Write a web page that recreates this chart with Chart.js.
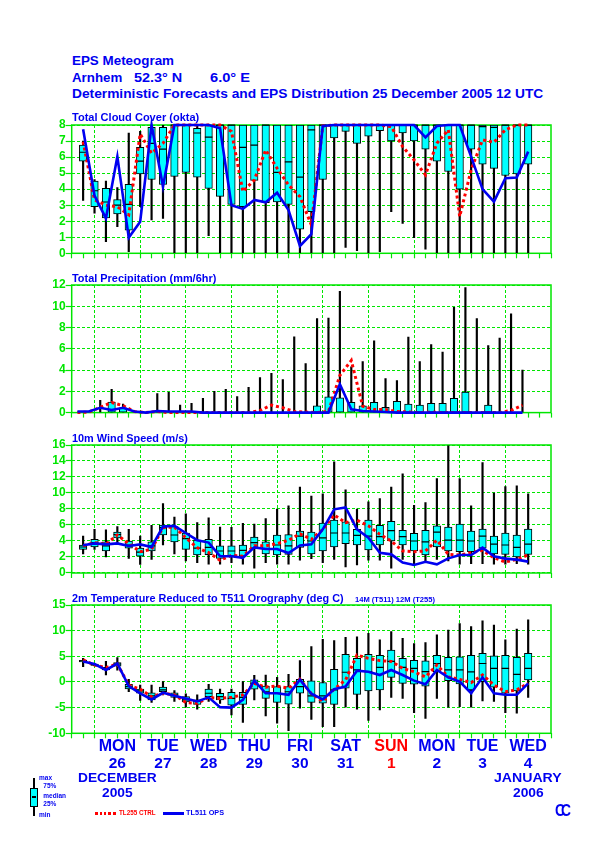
<!DOCTYPE html>
<html><head><meta charset="utf-8">
<script src="https://cdn.jsdelivr.net/npm/chart.js@4.4.1/dist/chart.umd.min.js"></script>
<style>
html,body{margin:0;padding:0;background:#fff;}
body{width:595px;height:842px;position:relative;overflow:hidden;font-family:"Liberation Sans",Arial,sans-serif;font-weight:bold;}
canvas{position:absolute;left:0;}
.t{position:absolute;white-space:nowrap;line-height:1;transform-origin:0 0;font-weight:bold;}
.blk{position:absolute;}
</style></head><body>
<script>
// ---------------- DATA ----------------
const stepHours = [6,12,18,24,30,36,42,48,54,60,66,72,78,84,90,96,102,108,114,120,126,132,138,144,150,156,162,168,174,180,186,192,198,204,210,216,222,228,234,240];
const precipHours = [3,9,15,21,27,33,39,45,51,57,63,69,75,81,87,93,99,105,111,117,123,129,135,141,147,153,159,165,171,177,183,189,195,201,207,213,219,225,231,237];

// Total cloud cover (okta)
const cloudMin = [3.3,2.5,0.73,1.66,0.1,2.9,2.08,2.18,0,0,0,1.1,0,0,0,0,0,0,0,0,0,0,0,0.37,0.17,0,0.1,2.6,1.87,0.98,0.25,0,0,0,0,0,0,0,0,0];
const cloudP25 = [5.75,2.9,2.2,2.45,1.45,4.95,4.6,4.3,4.8,5.05,4.75,4.05,3.55,3.05,2.9,4.55,3.15,3.2,3.05,1.5,2.6,4.6,7.2,7.6,6.85,7.3,7.65,7.0,7.5,7.0,6.5,5.75,5.1,4.0,6.5,5.55,5.3,4.85,4.95,5.55];
const cloudMed = [6.3,3.9,3.2,3.0,3.05,5.75,6.85,6.5,8,8,7.5,7.25,8,8,6.6,6.75,8,5.05,5.7,4.75,7.7,8,8,8,8,8,8,8,8,8,8,8,8,8,8,7.9,7.85,8,8,8];
const cloudP75 = [6.75,4.5,4.05,3.35,4.3,6.6,7.85,7.85,8,8,7.8,8,8,8,8,8,8,8,8,8,8,8,8,8,8,8,8,8,8,8,8,8,8,8,8,8,8,8,8,8];
const cloudMax = [7.0,4.6,4.5,4.1,7.5,7.6,8,8,8,8,8,8,8,8,8,8,8,8,8,8,8,8,8,8,8,8,8,8,8,8,8,8,8,8,8,8,8,8,8,8];
const cloudOps = [7.73,3.6,2.18,6.03,0.98,1.97,8,4.16,8,8,8,8,7.8,3.0,2.77,3.33,3.18,3.78,2.7,0.46,1.2,7.94,8,8,8,8,8,8,8,8,7.23,7.94,8,8,6.03,4.0,3.22,4.68,4.72,6.34];
const cloudCtrl = [6.96,3.33,3.0,2.9,2.4,7.44,6.24,6.86,8,8,8,8,8,7.6,3.85,4.57,6.44,5.3,4.26,3.53,1.77,7.94,8,8,8,8,8,7.9,6.65,5.82,4.89,6.86,7.7,2.29,5.2,7.07,6.92,7.7,8,8];

// Total precipitation (mm/6hr)
const precipMin = [0,0,0,0,0,0,0,0,0,0,0,0,0,0,0,0,0,0,0,0,0,0,0,0,0,0,0,0,0,0,0,0,0,0,0,0,0,0,0,0];
const precipP25 = [0,0,0,0,0,0,0,0,0,0,0,0,0,0,0,0,0,0,0,0,0,0,0,0,0,0,0,0,0,0,0,0,0,0,0,0,0,0,0,0];
const precipP75 = [0,0,0,1.0,0.45,0,0,0,0,0,0,0,0,0,0,0,0,0,0,0,0,0.63,1.48,1.38,0.97,0.63,0.97,0.5,1.07,0.79,0.7,0.88,0.88,1.35,1.92,0,0.7,0,0,0];
const precipMax = [0,0,1.15,2.2,0.8,0,0,1.8,1.9,0.7,0.87,1.34,2.0,2.2,1.5,2.37,3.3,3.7,3.1,7.13,4.6,8.84,8.9,11.4,4.3,4.8,6.76,3.2,3.0,7.1,4.8,6.4,5.7,9.9,11.76,8.84,6.3,7.0,9.3,4.0];
const precipOps = [0.1,0.1,0.45,0.25,0.45,0.1,0,0.15,0.1,0.1,0.1,0,0,0,0,0,0,0,0,0,0,0,0,2.67,0.3,0.15,0.1,0.05,0,0,0,0,0,0,0,0,0,0,0,0];
const precipCtrl = [0,0.05,0.5,0.95,0.65,0.1,0,0.1,0,0,0,0,0,0,0,0,0.2,0.7,0.45,0.1,0.05,0,0.1,3.5,4.9,0.6,0.3,0.3,0.1,0.05,0,0.05,0,0,0,0,0,0,0.2,0.7];

// 10m wind speed (m/s)
const windMin = [2.4,2.96,2.0,3.8,1.83,1.08,1.7,3.5,2.4,1.5,1.3,1.1,1.1,1.3,1.1,0.6,1.3,1.1,1.1,1.6,1.8,1.3,1.7,0.75,1.0,1.6,1.6,0.6,1.7,1.1,1.5,1.7,1.5,1.1,1.17,1.17,1.1,1.1,1.17,1.1];
const windP25 = [2.96,3.25,2.75,4.4,3.1,2.1,2.75,4.75,3.9,2.96,2.25,2.3,1.83,2.1,2.1,3.1,2.4,2.25,2.33,3.2,2.4,2.75,3.25,3.67,3.5,2.9,3.5,4.0,3.5,2.75,2.25,3.25,2.75,2.67,2.67,3.1,2.4,2.33,2.0,2.33];
const windMed = [3.25,3.8,3.4,4.8,3.5,2.6,3.4,5.67,4.75,4.3,3.1,3.2,2.75,2.75,2.83,3.8,3.0,3.5,3.4,4.6,4.0,4.4,5.0,5.0,4.7,4.6,4.54,5.3,4.54,4.0,3.9,5.1,4.1,4.1,4.0,4.6,3.6,3.5,3.2,3.6];
const windP75 = [3.5,4.2,3.9,5.1,4.0,3.1,3.9,6.0,5.8,5.0,4.1,4.2,3.4,3.4,3.5,4.5,3.9,4.75,4.8,5.25,5.1,6.25,6.6,6.4,5.45,6.6,5.96,6.46,5.33,4.96,5.33,5.9,5.75,6.1,5.25,5.5,4.6,5.0,4.75,5.5];
const windMax = [4.6,5.45,5.4,5.8,5.45,4.6,5.96,8.67,7.0,7.4,6.3,6.9,5.75,5.7,6.2,6.1,6.8,8.0,8.4,10.75,9.6,9.9,13.9,10.4,8.0,8.9,9.3,10.75,12.4,8.46,8.8,11.8,15.9,11.8,8.4,13.8,10.0,10.8,10.9,9.9];
const windOps = [3.46,3.7,3.58,3.7,3.38,3.58,3.25,5.8,5.9,5.0,4.1,3.8,2.1,2.1,1.9,3.2,3.0,3.0,2.5,3.45,3.6,5.45,7.96,8.2,5.45,4.4,2.54,2.33,1.3,1.0,1.4,1.08,1.83,2.25,2.25,3.17,2.1,1.8,1.67,1.42];
const windCtrl = [3.4,3.8,3.6,4.75,3.67,2.67,2.96,5.67,5.75,4.4,3.17,2.54,1.6,2.2,2.1,3.4,3.4,3.67,4.1,4.9,4.2,5.45,7.25,6.3,6.6,5.9,4.83,4.0,2.75,2.67,2.75,4.1,2.33,2.25,2.54,2.83,1.9,1.38,1.7,2.25];

// 2m temperature (deg C)
const tempMin = [3.0,3.2,1.36,2.3,-1.9,-3.6,-3.96,-2.5,-3.8,-4.9,-5.3,-3.8,-4.2,-6.4,-7.9,-3.5,-6.6,-8.05,-9.5,-5.1,-7.3,-8.7,-8.7,-4.9,-5.3,-7.5,-5.45,-3.0,-3.2,-6.0,-7.1,-3.2,-4.9,-4.8,-4.9,-3.7,-3.8,-6.0,-6.1,-3.0];
const tempP25 = [3.9,3.25,2.35,3.1,-1.36,-2.2,-3.5,-1.9,-3.0,-3.9,-4.35,-2.86,-3.5,-4.5,-4.35,-1.4,-3.2,-3.96,-4.3,-2.2,-3.96,-4.15,-4.35,-1.2,-2.4,-1.75,-1.55,0.9,-0.26,-0.45,-0.8,2.0,0.26,-0.4,-1.55,0.06,-1.0,-2.2,-1.75,0.4];
const tempMed = [4.1,3.4,2.6,3.5,-0.9,-1.75,-2.7,-1.55,-2.5,-3.5,-3.8,-2.2,-2.86,-3.2,-3.0,-0.26,-1.9,-2.2,-1.9,-0.9,-2.7,-2.7,-1.55,1.9,2.34,2.0,2.86,4.0,2.86,2.66,2.0,3.6,2.34,2.34,1.95,3.6,2.66,2.66,1.5,2.66];
const tempP75 = [4.2,3.5,2.85,3.8,-0.45,-1.36,-2.1,-1.0,-2.1,-2.86,-3.5,-1.36,-2.2,-2.0,-2.0,0.4,-0.8,-0.9,-0.9,0.5,0.2,0.0,2.47,5.4,4.6,5.4,5.2,6.2,4.6,4.2,4.1,5.2,4.8,4.9,5.2,5.6,5.1,5.2,4.8,5.6];
const tempMax = [4.6,3.6,4.0,4.74,0.5,-0.6,-0.6,0.06,-1.7,-2.3,-2.5,-0.45,-1.36,-1.36,0.06,1.3,1.36,0.9,1.5,4.16,6.9,8.3,8.05,8.7,8.8,9.5,8.2,9.8,8.5,7.5,7.7,9.2,10.1,11.4,10.8,11.9,11.1,8.2,10.3,12.1];
const tempOps = [4.0,3.5,2.34,3.6,-0.8,-2.2,-3.4,-2.1,-2.7,-3.2,-3.8,-3.0,-4.9,-5.0,-3.5,0.26,-2.2,-2.2,-2.5,0.45,-2.3,-3.4,-1.4,-0.9,2.2,2.0,1.36,2.34,1.36,0.26,-0.45,2.34,0.9,0.06,-2.2,0.9,-2.2,-2.5,-2.5,-0.26];
const tempCtrl = [4.3,3.3,2.8,3.5,-0.6,-1.4,-2.86,-2.2,-2.5,-4.0,-4.15,-3.0,-3.2,-3.0,-2.5,-0.26,-1.0,-0.8,-1.2,0.55,-2.3,-3.8,-1.4,0.4,5.26,4.6,4.16,4.0,2.66,2.0,1.0,3.3,1.0,0.5,-0.13,1.36,-0.6,-1.9,-1.55,-0.26];

// Axis labels
const dayNames = ['MON','TUE','WED','THU','FRI','SAT','SUN','MON','TUE','WED'];
const dayNums  = ['26','27','28','29','30','31','1','2','3','4'];
const dayHours = [24,48,72,96,120,144,168,192,216,240];

// ---------------- STYLE / LAYOUT ----------------
const GREEN = '#00e600', BLUE = '#0000f0', RED = '#ff0000', CYAN = '#00ffff';
const PLOT_LEFT = 71.7, PLOT_RIGHT = 551, PAD_TOP = 8, XAX_H = 12;
Chart.defaults.font.family = '"Liberation Sans", Arial, sans-serif';

const framePlugin = {
  id: 'frame',
  beforeDatasetsDraw(chart) {
    const {ctx, chartArea: a} = chart;
    ctx.save();
    ctx.strokeStyle = GREEN; ctx.lineWidth = 1.5;
    ctx.strokeRect(a.left, a.top, a.right - a.left, a.bottom - a.top);
    ctx.restore();
  }
};

function boxDatasets(hours, mn, p25, med, p75, mx) {
  const ds = [];
  ds.push({type: 'bar', order: 4, grouped: false, barThickness: 1.5, backgroundColor: '#000', borderWidth: 0,
    data: hours.map((h, i) => ({x: h, y: mx[i] > mn[i] ? [mn[i], mx[i]] : null}))});
  ds.push({type: 'bar', order: 3, grouped: false, barThickness: 7.5, backgroundColor: CYAN, borderColor: '#000',
    borderWidth: 1, borderSkipped: false,
    data: hours.map((h, i) => ({x: h, y: p75[i] > p25[i] ? [p25[i], p75[i]] : null}))});
  if (med) ds.push({type: 'line', order: 2, showLine: false, pointStyle: 'line', pointRadius: 3.75,
    pointBorderColor: '#000', pointBorderWidth: 1.2, pointBackgroundColor: '#000', clip: 4,
    data: hours.map((h, i) => ({x: h, y: med[i]}))});
  return ds;
}
function lineDatasets(hours, ops, ctrl) {
  return [
    {type: 'line', order: 0, data: hours.map((h, i) => ({x: h, y: ops[i]})), borderColor: BLUE, borderWidth: 2.6,
      pointRadius: 0, tension: 0, fill: false, clip: 6},
    {type: 'line', order: 1, data: hours.map((h, i) => ({x: h, y: ctrl[i]})), borderColor: RED, borderWidth: 3,
      borderDash: [3, 3], pointRadius: 0, tension: 0, fill: false, clip: 6}
  ];
}

function makePanel(top, bottom, yMin, yMax, yStep, datasets) {
  const cv = document.createElement('canvas');
  const h = Math.round(PAD_TOP + (bottom - top) + XAX_H);
  cv.width = 595; cv.height = h;
  cv.style.width = '595px'; cv.style.height = h + 'px';
  cv.style.top = (top - PAD_TOP) + 'px';
  document.body.appendChild(cv);
  return new Chart(cv, {
    type: 'bar',
    data: {datasets},
    options: {
      responsive: false, animation: false, devicePixelRatio: 1,
      layout: {padding: {top: PAD_TOP, right: 595 - PLOT_RIGHT, left: 0, bottom: 0}},
      plugins: {legend: {display: false}, tooltip: {enabled: false}},
      scales: {
        x: {type: 'linear', min: 0, max: 252, offset: false,
          afterFit: s => { s.height = h - PAD_TOP - (bottom - top); },
          ticks: {stepSize: 6, display: false, maxTicksLimit: 100, autoSkip: false},
          grid: {offset: false, lineWidth: 1, tickLength: 5, tickColor: GREEN, tickWidth: 1.2,
            color: c => (c.tick && ((c.tick.value - 12) % 24 === 0) && c.tick.value > 0 && c.tick.value < 252) ? GREEN : 'rgba(0,0,0,0)'},
          border: {display: false, dash: [3, 2]}},
        y: {min: yMin, max: yMax, afterFit: s => { s.width = PLOT_LEFT; },
          ticks: {stepSize: yStep, autoSkip: false, maxTicksLimit: 50, color: GREEN, padding: 0, font: {size: 12, weight: 'bold'}},
          grid: {color: GREEN, tickColor: GREEN, tickLength: 6, lineWidth: 1, tickWidth: 1.2},
          border: {display: false, dash: [3, 2]}}
      }
    },
    plugins: [framePlugin]
  });
}

// ---------------- PANELS ----------------
makePanel(125.0, 253.3, 0, 8, 1,
  [...lineDatasets(stepHours, cloudOps, cloudCtrl), ...boxDatasets(stepHours, cloudMin, cloudP25, cloudMed, cloudP75, cloudMax)]);
makePanel(285.3, 412.9, 0, 12, 2,
  [...lineDatasets(precipHours, precipOps, precipCtrl), ...boxDatasets(precipHours, precipMin, precipP25, null, precipP75, precipMax)]);
makePanel(445.3, 573.3, 0, 16, 2,
  [...lineDatasets(stepHours, windOps, windCtrl), ...boxDatasets(stepHours, windMin, windP25, windMed, windP75, windMax)]);
const tempChart = makePanel(605.0, 733.3, -10, 15, 5,
  [...lineDatasets(stepHours, tempOps, tempCtrl), ...boxDatasets(stepHours, tempMin, tempP25, tempMed, tempP75, tempMax)]);

// ---------------- TEXT ----------------
function addText(txt, x, baseline, fs, color, width, align) {
  const el = document.createElement('div');
  el.className = 't'; el.textContent = txt;
  el.style.fontSize = fs + 'px'; el.style.color = color;
  document.body.appendChild(el);
  const w = el.getBoundingClientRect().width;
  const sx = width ? width / w : 1;
  let left = x;
  if (align === 'center') left = x - (w * sx) / 2;
  el.style.left = left + 'px';
  el.style.top = (baseline - 0.8465 * fs) + 'px';
  el.style.transform = 'scaleX(' + sx + ')';
  return el;
}
function addBlock(l, t, w, h, css) {
  const d = document.createElement('div');
  d.className = 'blk';
  d.style.left = l + 'px'; d.style.top = t + 'px'; d.style.width = w + 'px'; d.style.height = h + 'px';
  Object.assign(d.style, css);
  document.body.appendChild(d);
}

addText('EPS Meteogram', 71.7, 65, 13, BLUE, 102);
addText('Arnhem', 71.7, 81.7, 13, BLUE, 50.3);
addText('52.3\u00B0 N', 134, 81.7, 13, BLUE, 48.3);
addText('6.0\u00B0 E', 210, 81.7, 13, BLUE, 40);
addText('Deterministic Forecasts and EPS Distribution 25 December 2005  12 UTC', 71.7, 98, 13, BLUE, 471.3);

addText('Total Cloud Cover (okta)', 71.7, 121.7, 11, BLUE, 127.3);
addText('Total Precipitation (mm/6hr)', 71.7, 282, 11, BLUE, 144.3);
addText('10m Wind Speed (m/s)', 71.7, 442, 11, BLUE, 116);
addText('2m Temperature Reduced to T511 Orography (deg C)', 71.7, 602.3, 11, BLUE, 271.6);
addText('14M (T511) 12M (T255)', 355, 601.7, 7, BLUE, 80);

const xs = tempChart.scales.x;
dayHours.forEach((h, i) => {
  const x = xs.getPixelForValue(h);
  const col = dayNames[i] === 'SUN' ? RED : BLUE;
  addText(dayNames[i], x, 751.7, 16, col, null, 'center');
  addText(dayNums[i], x, 767.7, 15.5, col, null, 'center');
});
addText('DECEMBER', xs.getPixelForValue(dayHours[0]), 782.3, 13, BLUE, 78.7, 'center');
addText('2005', xs.getPixelForValue(dayHours[0]), 796.7, 13, BLUE, 30.7, 'center');
addText('JANUARY', xs.getPixelForValue(dayHours[9]), 782.3, 13, BLUE, 67.7, 'center');
addText('2006', xs.getPixelForValue(dayHours[9]), 796.7, 13, BLUE, 30.7, 'center');

// legend: box symbol
addBlock(33.2, 777.7, 1.6, 38.3, {background: '#000'});
addBlock(30, 788.3, 7.7, 18.4, {background: CYAN, border: '1px solid #000', boxSizing: 'border-box'});
addBlock(31.6, 796, 4.5, 1.6, {background: '#000'});
addText('max', 39, 780.5, 6.5, BLUE);
addText('75%', 43.3, 789, 6.5, BLUE);
addText('median', 43.3, 799, 6.5, BLUE);
addText('25%', 43.3, 806.6, 6.5, BLUE);
addText('min', 39, 817.3, 6.5, BLUE);

// legend: lines
addBlock(95, 812.2, 21.7, 2.4, {background: 'repeating-linear-gradient(90deg,' + RED + ' 0 2.5px, transparent 2.5px 4.5px)'});
addText('TL255 CTRL', 119.3, 815.7, 6.5, RED, 36.7);
addBlock(163.3, 812.2, 20.7, 2.4, {background: BLUE});
addText('TL511 OPS', 186, 815.7, 6.5, BLUE, 38);

// logo
const lg = addText('CC', 555, 816.5, 17, BLUE, 20);
lg.style.letterSpacing = '-5px';
</script>
</body></html>
